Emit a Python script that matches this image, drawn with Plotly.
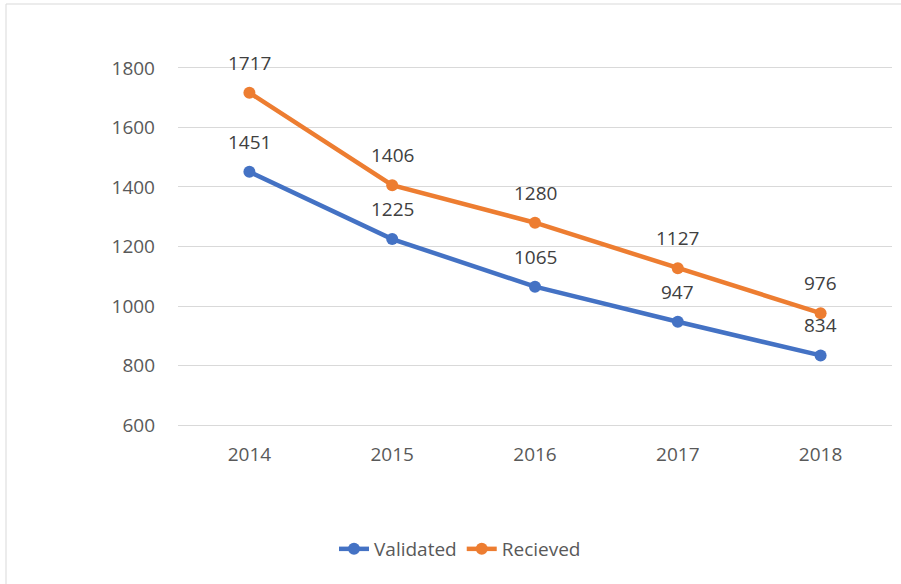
import plotly.graph_objects as go

years = ["2014", "2015", "2016", "2017", "2018"]
validated = [1451, 1225, 1065, 947, 834]
received = [1717, 1406, 1280, 1127, 976]

FONT = "Open Sans"
GRAY = "#595959"
LBL = "#404040"

fig = go.Figure()
fig.add_trace(go.Scatter(x=years, y=validated, name="Validated", mode="lines+markers",
                         line=dict(color="#4472C4", width=4.5), marker=dict(size=12)))
fig.add_trace(go.Scatter(x=years, y=received, name="Recieved", mode="lines+markers",
                         line=dict(color="#ED7D31", width=4.5), marker=dict(size=12)))

for series in (validated, received):
    for i, v in enumerate(series):
        fig.add_annotation(x=i, y=v, xref="x", yref="y", text=str(v), showarrow=False,
                           yanchor="middle", yshift=30,
                           font=dict(size=19, color=LBL, family=FONT))

W, H = 901, 584
YMIN, YMAX = 590, 1810
scale = (425 - 68) / 1200.0
T = round(68 - (YMAX - 1800) * scale)
Bpx = round(425 + (600 - YMIN) * scale)
L, R = 178, 9
B = H - Bpx
pw, ph = W - L - R, Bpx - T

fig.update_layout(
    width=W, height=H,
    margin=dict(l=L, r=R, t=T, b=B),
    paper_bgcolor="white", plot_bgcolor="white",
    font=dict(family=FONT, size=19, color=GRAY),
    showlegend=True,
    legend=dict(orientation="h", x=(460 - L) / pw, xanchor="center",
                y=-(549 - Bpx) / ph, yanchor="middle",
                font=dict(size=19, color=GRAY, family=FONT)),
    xaxis=dict(type="category", range=[-0.5, 4.5], showgrid=False, showline=False,
               ticks="", ticklabelstandoff=13, tickfont=dict(size=19, color=GRAY)),
    yaxis=dict(range=[YMIN, YMAX], tickvals=[600, 800, 1000, 1200, 1400, 1600, 1800],
               showgrid=True, gridcolor="#D9D9D9", gridwidth=1,
               zeroline=False, showline=False, ticks="", ticklabelstandoff=22,
               tickfont=dict(size=19, color=GRAY)),
)

fig.add_shape(type="rect", xref="paper", yref="paper",
              x0=(6 - L) / pw, x1=(W + 5 - L) / pw,
              y0=-(H + 5 - Bpx) / ph, y1=(Bpx - 4) / ph,
              line=dict(color="#D9D9D9", width=1), fillcolor="rgba(0,0,0,0)", layer="below")

fig.write_html("out.html", config={"displayModeBar": False},
               post_script="document.body.style.margin='0';document.body.style.overflow='hidden';")
